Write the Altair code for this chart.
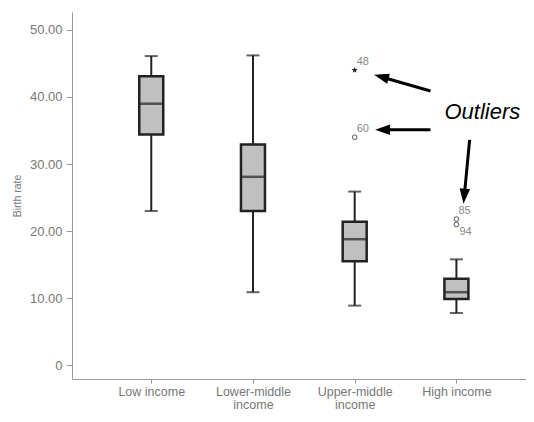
import altair as alt
import pandas as pd

# ---- data ----
categories = ["Low income", "Lower-middle income", "Upper-middle income", "High income"]
positions = [1, 2, 3, 4]
whisker_low = [23.0, 10.9, 8.9, 7.8]
q1 = [34.4, 23.0, 15.5, 9.9]
median = [39.0, 28.1, 18.8, 10.9]
q3 = [43.1, 32.9, 21.4, 12.9]
whisker_high = [46.1, 46.2, 25.9, 15.8]

outlier_pos = [3, 3, 4, 4]
outlier_value = [44.0, 34.0, 21.8, 21.0]
outlier_case = ["48", "60", "85", "94"]
outlier_kind = ["extreme", "outlier", "outlier", "outlier"]

arrow_tail_x = [3.745, 3.745, 4.13]
arrow_tail_y = [40.9, 35.1, 33.6]
arrow_tip_x = [3.19, 3.20, 4.07]
arrow_tip_y = [43.3, 35.1, 24.1]
arrow_angle = [285, 270, 185]

note_text = ["Outliers"]
note_x = [4.255]
note_y = [37.8]

y_ticks = [0, 10, 20, 30, 40, 50]

# ---- tables ----
boxes = pd.DataFrame({
    "cat": categories, "pos": positions, "lo": whisker_low, "q1": q1,
    "med": median, "q3": q3, "hi": whisker_high,
})
outs = pd.DataFrame({"pos": outlier_pos, "val": outlier_value,
                     "case": outlier_case, "kind": outlier_kind})
arrows = pd.DataFrame({"tx": arrow_tail_x, "ty": arrow_tail_y,
                       "hx": arrow_tip_x, "hy": arrow_tip_y, "ang": arrow_angle})
note = pd.DataFrame({"t": note_text, "x": note_x, "y": note_y})

FONT = "Liberation Sans"
DARK = "#222222"
GRAY = "#777777"

xscale = alt.Scale(domain=[0.27, 4.635], nice=False, zero=False)
yscale = alt.Scale(domain=[-2.04, 52.67], nice=False, zero=False)

label_expr = ("datum.value == 1 ? 'Low income' : datum.value == 2 ? ['Lower-middle', 'income'] : "
              "datum.value == 3 ? ['Upper-middle', 'income'] : datum.value == 4 ? 'High income' : ''")

x_axis = alt.Axis(values=positions, labelExpr=label_expr, title=None, grid=False,
                  domainColor="#999999", tickColor="#999999", tickSize=4,
                  labelColor=GRAY, labelFont=FONT, labelFontSize=12.5,
                  labelPadding=2, labelLineHeight=13, labelAngle=0)
y_axis = alt.Axis(values=y_ticks, title="Birth rate", grid=False,
                  labelExpr="datum.value == 0 ? '0' : format(datum.value, '.2f')",
                  domainColor="#999999", tickColor="#999999", tickSize=6,
                  labelColor=GRAY, labelFont=FONT, labelFontSize=13, labelPadding=4,
                  titleColor=GRAY, titleFont=FONT, titleFontSize=10.5,
                  titleFontWeight="normal", titlePadding=7)

base = alt.Chart(boxes)

whisk = base.mark_rule(color=DARK, strokeWidth=2).encode(
    x=alt.X("pos:Q", scale=xscale, axis=x_axis),
    y=alt.Y("lo:Q", scale=yscale, axis=y_axis),
    y2="hi:Q",
)
cap_lo = base.mark_tick(color=DARK, size=13, thickness=2, orient="horizontal").encode(
    x=alt.X("pos:Q", scale=xscale), y=alt.Y("lo:Q", scale=yscale))
cap_hi = base.mark_tick(color=DARK, size=13, thickness=2, orient="horizontal").encode(
    x=alt.X("pos:Q", scale=xscale), y=alt.Y("hi:Q", scale=yscale))
box = base.mark_bar(size=24, fill="#c0c0c0", stroke=DARK, strokeWidth=2.5).encode(
    x=alt.X("pos:Q", scale=xscale), y=alt.Y("q1:Q", scale=yscale), y2="q3:Q")
med = base.mark_tick(color=DARK, size=24, thickness=2.5, orient="horizontal").encode(
    x=alt.X("pos:Q", scale=xscale), y=alt.Y("med:Q", scale=yscale))

star_path = ("M0,-1L0.2245,-0.309L0.951,-0.309L0.3633,0.118L0.5878,0.809L0,0.382"
             "L-0.5878,0.809L-0.3633,0.118L-0.951,-0.309L-0.2245,-0.309Z")

obase = alt.Chart(outs)
circles = obase.transform_filter("datum.kind == 'outlier'").mark_point(
    shape="circle", size=22, filled=False, stroke="#555555", strokeWidth=1, opacity=1
).encode(x=alt.X("pos:Q", scale=xscale), y=alt.Y("val:Q", scale=yscale))
stars = obase.transform_filter("datum.kind == 'extreme'").mark_point(
    shape=star_path, size=45, filled=True, fill="#222222", strokeWidth=0, opacity=1
).encode(x=alt.X("pos:Q", scale=xscale), y=alt.Y("val:Q", scale=yscale))

lab_up = obase.transform_filter("datum.case != '94'").mark_text(
    align="left", baseline="middle", dx=2, dy=-8, font=FONT, fontSize=11, color="#888888"
).encode(x=alt.X("pos:Q", scale=xscale), y=alt.Y("val:Q", scale=yscale), text="case:N")
lab_dn = obase.transform_filter("datum.case == '94'").mark_text(
    align="left", baseline="middle", dx=3, dy=8, font=FONT, fontSize=11, color="#888888"
).encode(x=alt.X("pos:Q", scale=xscale), y=alt.Y("val:Q", scale=yscale), text="case:N")

abase = alt.Chart(arrows).transform_calculate(
    ex="datum.hx + (datum.tx - datum.hx) * 0.15",
    ey="datum.hy + (datum.ty - datum.hy) * 0.15",
)
shafts = abase.mark_rule(color="black", strokeWidth=3).encode(
    x=alt.X("tx:Q", scale=xscale), y=alt.Y("ty:Q", scale=yscale),
    x2="ex:Q", y2="ey:Q")
heads = abase.mark_point(shape="M0,0L-0.7,2L0.7,2Z", size=225, filled=True,
                         fill="black", strokeWidth=0, opacity=1).encode(
    x=alt.X("hx:Q", scale=xscale), y=alt.Y("hy:Q", scale=yscale),
    angle=alt.Angle("ang:Q", scale=None))

note_mark = alt.Chart(note).mark_text(
    align="center", baseline="middle", font=FONT, fontSize=22, fontStyle="italic",
    color="black").encode(x=alt.X("x:Q", scale=xscale), y=alt.Y("y:Q", scale=yscale),
                          text="t:N")

chart = alt.layer(whisk, cap_lo, cap_hi, box, med, circles, stars, lab_up, lab_dn,
                  shafts, heads, note_mark).properties(
    width=454, height=367,
    background="white",
    autosize=alt.AutoSizeParams(type="none"),
    padding={"left": 64, "top": 4, "right": 0, "bottom": 31},
).configure_view(strokeWidth=0)

chart.save("out.html", embed_options={"renderer": "svg", "actions": False})
